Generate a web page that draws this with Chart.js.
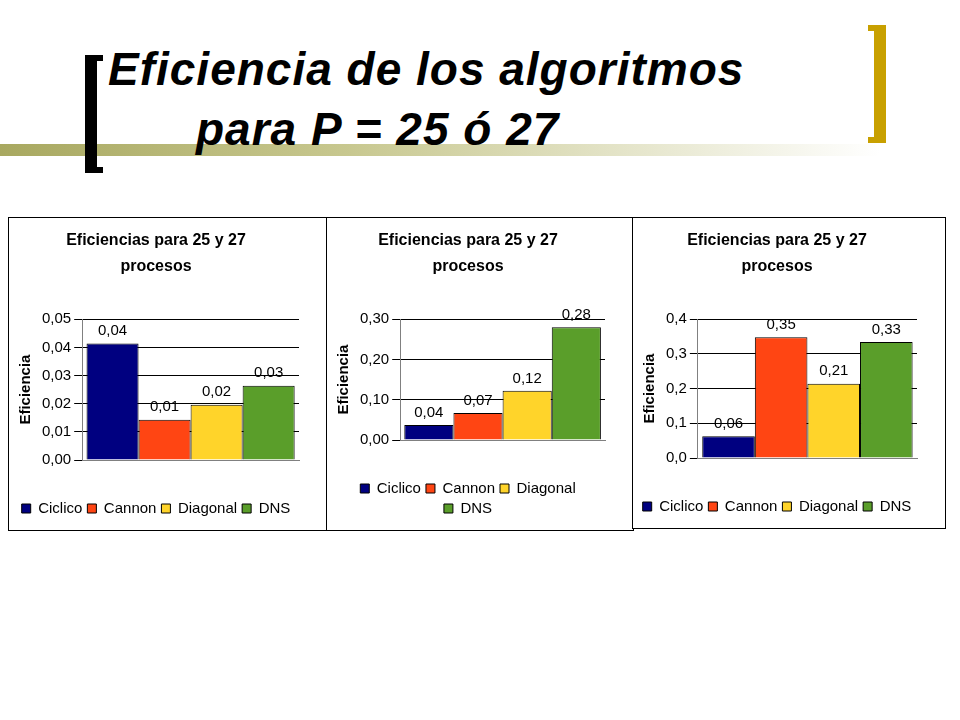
<!DOCTYPE html>
<html><head><meta charset="utf-8">
<script src="https://cdn.jsdelivr.net/npm/chart.js@4"></script>
<style>
body{margin:0;width:960px;height:720px;background:#fff;position:relative;overflow:hidden;font-family:Arial,"Liberation Sans",sans-serif}
.t{position:absolute;font-weight:bold;font-style:italic;font-size:46px;color:#000}
.p{position:absolute;border:1px solid #000;background:#fff}
</style></head><body>
<div style="position:absolute;left:0;top:144px;width:880px;height:12px;background:linear-gradient(to right,#a8a860,#c8c890 40%,#fff)"></div>
<div style="position:absolute;left:85px;top:55px;width:12px;height:118px;background:#000"></div>
<div style="position:absolute;left:85px;top:55px;width:18px;height:6px;background:#000"></div>
<div style="position:absolute;left:85px;top:167px;width:18px;height:6px;background:#000"></div>
<div style="position:absolute;left:874px;top:25px;width:12px;height:118px;background:#c8a000"></div>
<div style="position:absolute;left:868px;top:25px;width:18px;height:6px;background:#c8a000"></div>
<div style="position:absolute;left:868px;top:137px;width:18px;height:6px;background:#c8a000"></div>
<div class="t" style="left:108px;top:42px;letter-spacing:1px">Eficiencia de los algoritmos</div>
<div class="t" style="left:196px;top:102px;letter-spacing:1px">para P = 25 ó 27</div>
<div class="p" style="left:8px;top:217px;width:318px;height:312px"><canvas id="c1"></canvas></div>
<div class="p" style="left:326px;top:217px;width:306px;height:312px"><canvas id="c2"></canvas></div>
<div class="p" style="left:632px;top:217px;width:312px;height:310px"><canvas id="c3"></canvas></div>
<script>
const categories=["Ciclico","Cannon","Diagonal","DNS"];
const colors=["#000080","#ff4513","#ffd42a","#5a9e2a"];
const values1=[0.0414,0.0143,0.0196,0.0264];
const values2=[0.037,0.067,0.122,0.28];
const values3=[0.063,0.348,0.214,0.334];
const max1=0.05,step1=0.01,dec1=2;
const max2=0.30,step2=0.10,dec2=2;
const max3=0.4,step3=0.1,dec3=1;
const labelPlugin={id:'lbl',afterDatasetsDraw(ch){const c=ch.ctx;c.save();c.font='15px Arial';c.fillStyle='#000';c.textAlign='center';c.textBaseline='bottom';
ch.data.datasets.forEach((d,i)=>{const m=ch.getDatasetMeta(i).data[0];c.fillText(d.data[0].toFixed(2).replace('.',','),m.x,m.y-5);});c.restore();}};
function make(id,vals,max,step,dec){
 new Chart(document.getElementById(id),{type:'bar',
 data:{labels:[''],datasets:categories.map((n,i)=>({label:n,data:[vals[i]],backgroundColor:colors[i],borderColor:'#000',borderWidth:1,barPercentage:1,categoryPercentage:0.96}))},
 options:{responsive:true,maintainAspectRatio:false,animation:false,
 layout:{padding:{top:10,right:28,left:4,bottom:4}},
 plugins:{title:{display:true,text:['Eficiencias para 25 y 27','procesos'],font:{family:'Arial',size:16,weight:'bold',lineHeight:1.6},color:'#000',padding:{bottom:40}},
 legend:{position:'bottom',labels:{boxWidth:9,boxHeight:9,padding:5,font:{family:'Arial',size:15},color:'#000'}},tooltip:{enabled:false}},
 scales:{x:{grid:{display:false},border:{color:'#808080'},ticks:{display:false},afterFit:s=>{s.height=36;}},
 y:{min:0,max:max,ticks:{stepSize:step,font:{family:'Arial',size:15},color:'#000',callback:v=>v.toFixed(dec).replace('.',',')},
 grid:{color:'#000',drawTicks:true},border:{color:'#808080'},
 title:{display:true,text:'Eficiencia',font:{family:'Arial',size:15,weight:'bold'},color:'#000'}}}},
 plugins:[labelPlugin]});
}
make('c1',values1,max1,step1,dec1);
make('c2',values2,max2,step2,dec2);
make('c3',values3,max3,step3,dec3);
</script></body></html>
